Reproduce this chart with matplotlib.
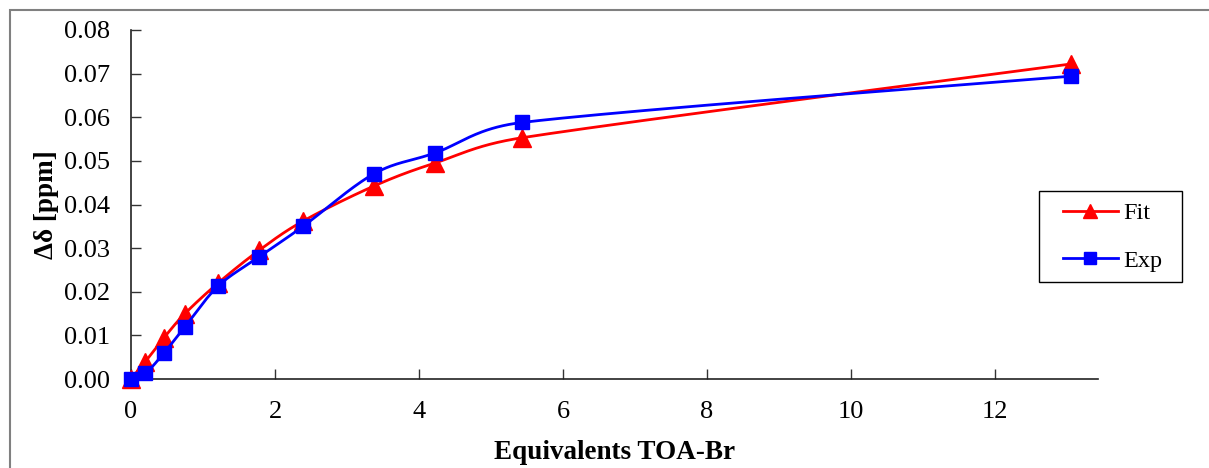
import numpy as np
import matplotlib.pyplot as plt
import matplotlib as mpl
from matplotlib.patches import Rectangle
from matplotlib.lines import Line2D

mpl.rcParams['font.family'] = ['Liberation Serif', 'DejaVu Serif']

# equivalents of TOA-Br added
equiv = [0.0, 0.2, 0.46, 0.75, 1.21, 1.78, 2.39, 3.37, 4.22, 5.43, 13.05]
# chemical shift change (ppm)
fit_vals = [0.0, 0.0040, 0.0095, 0.0150, 0.0220, 0.0295, 0.0362, 0.0442, 0.0495, 0.0553, 0.0722]
exp_vals = [0.0, 0.0013, 0.0060, 0.0120, 0.0213, 0.0280, 0.0350, 0.0470, 0.0518, 0.0588, 0.0694]

x_ticks = [0, 2, 4, 6, 8, 10, 12]
y_ticks = [0.00, 0.01, 0.02, 0.03, 0.04, 0.05, 0.06, 0.07, 0.08]

# pixel scale of the plot area (used so smoothing behaves like on screen)
PX_X = 72.0
PX_Y = 349 / 0.08


def excel_smooth(xs, ys, n=40):
    """Bezier smoothing roughly like Excel's 'smoothed line'."""
    pts = np.column_stack([np.asarray(xs, float) * PX_X, np.asarray(ys, float) * PX_Y])
    out = []
    for i in range(len(pts) - 1):
        p0 = pts[i - 1] if i > 0 else pts[i]
        p1 = pts[i]
        p2 = pts[i + 1]
        p3 = pts[i + 2] if i + 2 < len(pts) else pts[i + 1]
        d12 = np.linalg.norm(p2 - p1)
        t1 = p2 - p0
        t2 = p3 - p1
        l1 = np.linalg.norm(t1)
        l2 = np.linalg.norm(t2)
        a1 = min(l1 / 6.0, d12 / 2.0)
        a2 = min(l2 / 6.0, d12 / 2.0)
        c1 = p1 + (t1 / l1 * a1 if l1 > 0 else 0)
        c2 = p2 - (t2 / l2 * a2 if l2 > 0 else 0)
        t = np.linspace(0, 1, n)[:, None]
        seg = ((1 - t) ** 3) * p1 + 3 * ((1 - t) ** 2) * t * c1 + 3 * (1 - t) * t ** 2 * c2 + t ** 3 * p2
        out.append(seg if i == 0 else seg[1:])
    seg = np.vstack(out)
    return seg[:, 0] / PX_X, seg[:, 1] / PX_Y


fig = plt.figure(figsize=(12.09, 4.68), dpi=100)
W, H = 1209, 468
ax = fig.add_axes([131 / W, 1 - 379 / H, (1098 - 131) / W, (379 - 30) / H])

# outer chart frame (clipped on right/bottom like the source)
fig.patches.append(Rectangle((10 / W, -0.1), 1.2, 1 - 10 / H + 0.1, transform=fig.transFigure,
                             fill=False, edgecolor='#808080', linewidth=1.5))

sx, sy = excel_smooth(equiv, fit_vals)
ax.plot(sx, sy, color='red', lw=2, clip_on=False, zorder=3)
ax.plot(equiv, fit_vals, linestyle='none', marker='^', color='red', markersize=13, clip_on=False, zorder=4)

sx, sy = excel_smooth(equiv, exp_vals)
ax.plot(sx, sy, color='blue', lw=2, clip_on=False, zorder=5)
ax.plot(equiv, exp_vals, linestyle='none', marker='s', color='blue', markersize=10, clip_on=False, zorder=6)

ax.set_xlim(0, (1098 - 131) / PX_X)
ax.set_ylim(0, 0.08)
ax.set_xticks(x_ticks)
ax.set_yticks(y_ticks)
ax.set_yticklabels([f'{v:.2f}' for v in y_ticks])
ax.tick_params(direction='in', length=7, width=1, labelsize=19, color='#333333')
ax.tick_params(axis='y', pad=15)
ax.tick_params(axis='x', pad=16)
ax.spines['top'].set_visible(False)
ax.spines['right'].set_visible(False)
for s in ['left', 'bottom']:
    ax.spines[s].set_linewidth(1.2)
    ax.spines[s].set_color('#222222')

ax.set_xlabel('Equivalents TOA-Br', fontsize=19.5, fontweight='bold', labelpad=12)
ax.set_ylabel('Δδ [ppm]', fontsize=19.5, fontweight='bold')
ax.yaxis.set_label_coords(-72 / (1098 - 131), 0.5)

# legend: frame drawn by hand so its size matches
fig.patches.append(Rectangle((1039 / W, 1 - 282 / H), (1182 - 1039) / W, (282 - 191) / H,
                             transform=fig.transFigure, fill=False, edgecolor='black', linewidth=1))
handles = [Line2D([], [], color='red', lw=2, marker='^', markersize=10),
           Line2D([], [], color='blue', lw=2, marker='s', markersize=8)]
fig.legend(handles, ['Fit', 'Exp'], loc='center left',
           bbox_to_anchor=(1063 / W, 1 - 237 / H), fontsize=17.5,
           frameon=False, labelspacing=1.05, handlelength=2.25,
           borderpad=0, handletextpad=0.25, borderaxespad=0)

fig.savefig('out.png', dpi=100)
